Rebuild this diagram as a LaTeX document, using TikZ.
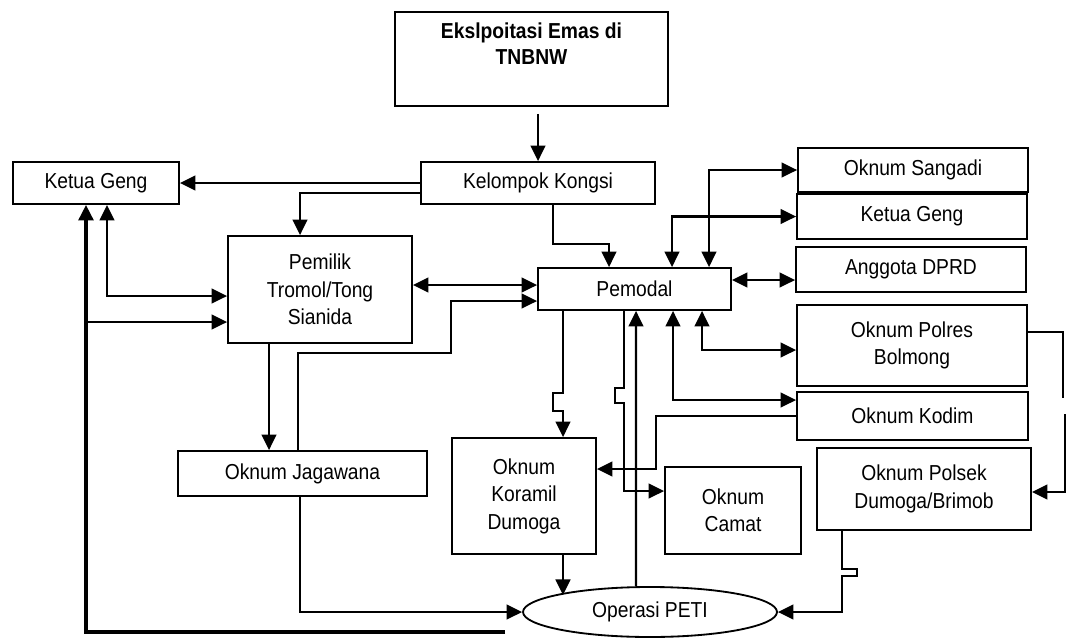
\documentclass[tikz,border=0pt]{standalone}
\usepackage{fontspec}
\setmainfont{Liberation Sans}[FakeStretch=0.89]
\usetikzlibrary{arrows.meta,shapes.geometric}
\newcommand{\pxu}{0.025cm}
\begin{document}
\begin{tikzpicture}[x=0.025cm,y=-0.025cm,
	box/.style={draw,line width=1.3pt,align=center,inner sep=0pt,font=\fontsize{15.4}{19.5}\selectfont},
	arr/.style={line width=1.5pt,-{Triangle[length=11pt,width=10.5pt]}},
	arrs/.style={line width=1.5pt,{Triangle[length=11pt,width=10.5pt]}-{Triangle[length=11pt,width=10.5pt]}}]
	\useasboundingbox (0,0) rectangle (1067,638);
	\node[box,font=\fontsize{15.4}{18}\selectfont\bfseries,minimum width=273*\pxu,minimum height=94*\pxu] (tnbnw) at (531.5,59) {Ekslpoitasi Emas di\\TNBNW\\[4pt]~};
	\node[box,minimum width=234*\pxu,minimum height=42*\pxu] (kongsi) at (538,183) {Kelompok Kongsi};
	\node[box,minimum width=166*\pxu,minimum height=42*\pxu] (gengL) at (96,183) {Ketua Geng};
	\node[box,minimum width=184*\pxu,minimum height=107*\pxu] (pemilik) at (320,289.5) {Pemilik\\Tromol/Tong\\Sianida};
	\node[box,minimum width=193*\pxu,minimum height=42*\pxu] (pemodal) at (634.5,289) {Pemodal};
	\node[box,minimum width=249*\pxu,minimum height=45*\pxu] (jagawana) at (302.5,473.5) {Oknum Jagawana};
	\node[box,minimum width=230*\pxu,minimum height=44*\pxu] (sangadi) at (913,170) {Oknum Sangadi};
	\node[box,minimum width=230*\pxu,minimum height=45*\pxu] (gengR) at (912,216.5) {Ketua Geng};
	\node[box,minimum width=230*\pxu,minimum height=45*\pxu] (dprd) at (911,269.5) {Anggota DPRD};
	\node[box,minimum width=230*\pxu,minimum height=81*\pxu] (polres) at (912,345.5) {Oknum Polres\\Bolmong};
	\node[box,minimum width=231*\pxu,minimum height=48*\pxu] (kodim) at (912.5,416) {Oknum Kodim};
	\node[box,minimum width=214*\pxu,minimum height=82*\pxu] (polsek) at (924,489) {Oknum Polsek\\Dumoga/Brimob};
	\node[box,minimum width=144*\pxu,minimum height=116*\pxu] (koramil) at (524,496) {Oknum\\Koramil\\Dumoga};
	\node[box,minimum width=136*\pxu,minimum height=87*\pxu] (camat) at (733,510.5) {Oknum\\Camat};
	\node[box,ellipse,minimum width=254*\pxu,minimum height=50*\pxu] (peti) at (650,612) {Operasi PETI};
	\path (505,632) coordinate (petiL)
	(86,322) coordinate (jn);
	\draw[arr] ([yshift=-7*\pxu]tnbnw.south -| kongsi.north) -- (kongsi.north);
	\draw[arr] (kongsi.west) -- (gengL.east);
	\draw[arr] ([yshift=-10*\pxu]kongsi.west) -| ([xshift=-20*\pxu]pemilik.north);
	\draw[arrs] ([xshift=11*\pxu]gengL.south) |- ([yshift=-6.5*\pxu]pemilik.west);
	\draw[line width=2.3pt,-{Triangle[length=11pt,width=10.5pt]}] (petiL) -| ([xshift=-10*\pxu]gengL.south);
	\draw[arr] (jn) -- (jn -| pemilik.west);
	\draw[arrs] ([yshift=4*\pxu]pemilik.east |- pemodal.west) -- ([yshift=4*\pxu]pemodal.west);
	\draw[arr] ([xshift=-4.5*\pxu]jagawana.north) |- (451,353) |- ([yshift=-12*\pxu]pemodal.west);
	\draw[arr] ([xshift=-51*\pxu]pemilik.south) -- ([xshift=-51*\pxu]pemilik.south |- jagawana.north);
	\draw[arr] ([xshift=-2.5*\pxu]jagawana.south) |- (peti.west);
	\draw[arr] ([xshift=15*\pxu]kongsi.south) -- ++(0,39) -| ([xshift=-25.5*\pxu]pemodal.north);
	\draw[arrs] ([xshift=74.5*\pxu]pemodal.north) |- (sangadi.west);
	\draw[arrs] ([xshift=37.5*\pxu]pemodal.north) |- (gengR.west);
	\draw[arrs] ([yshift=9*\pxu]pemodal.east) -- ([yshift=9*\pxu]pemodal.east -| dprd.west);
	\draw[arrs] ([xshift=67.5*\pxu]pemodal.south) |- ([yshift=-4.5*\pxu]polres.west);
	\draw[arrs] ([xshift=38.5*\pxu]pemodal.south) |- ([yshift=16*\pxu]kodim.west);
	\draw[arr] (kodim.west) -- ++(-140,0) |- ([yshift=27*\pxu]koramil.east);
	\draw[arr] ([xshift=-71.5*\pxu]pemodal.south) -- ++(0,82) -- ++(-10,0) -- ++(0,18) -- ++(10,0) -- ([xshift=39*\pxu]koramil.north);
	\draw[arr] ([xshift=-10.5*\pxu]pemodal.south) -- ++(0,77) -- ++(-9,0) -- ++(0,15) -- ++(9,0) |- ([yshift=19.5*\pxu]camat.west);
	\draw[arr] ([xshift=-14*\pxu]peti.north) -- ([xshift=1.5*\pxu]pemodal.south);
	\draw[arr] ([xshift=39*\pxu]koramil.south) -- ++(0,40);
	\draw[arr] ([xshift=-82*\pxu]polsek.south) -- ++(0,38) -- ++(15,0) -- ++(0,7) -- ++(-15,0) |- (peti.east);
	\draw[arr] ([yshift=13.5*\pxu]polres.east) -- ++(35,0) -- ++(0,66) ++(2,16) |- ([yshift=-3*\pxu]polsek.east);
\end{tikzpicture}
\end{document}
